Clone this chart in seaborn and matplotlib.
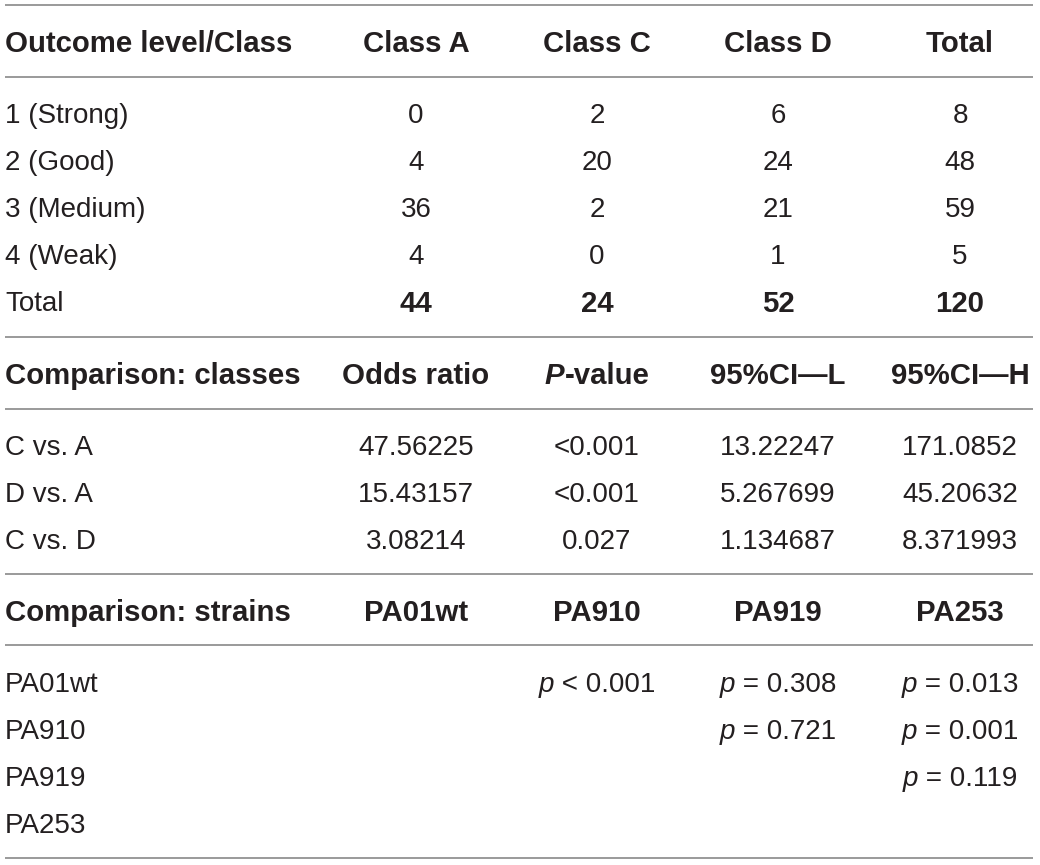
import matplotlib
matplotlib.use("Agg")
import matplotlib.pyplot as plt
import seaborn as sns

# Section 1: outcome level counts per class
outcome_levels = ["1 (Strong)", "2 (Good)", "3 (Medium)", "4 (Weak)"]
class_a = [0, 4, 36, 4]
class_c = [2, 20, 2, 0]
class_d = [6, 24, 21, 1]
count_headers = ["Outcome level/Class", "Class A", "Class C", "Class D", "Total"]

# Section 2: class comparisons
comparisons = ["C vs. A", "D vs. A", "C vs. D"]
odds_ratio = ["47.56225", "15.43157", "3.08214"]
p_value = ["<0.001", "<0.001", "0.027"]
ci_low = ["13.22247", "5.267699", "1.134687"]
ci_high = ["171.0852", "45.20632", "8.371993"]

# Section 3: strain p-values (upper triangle)
strains = ["PA01wt", "PA910", "PA919", "PA253"]
strain_p = {
    ("PA01wt", "PA910"): "< 0.001",
    ("PA01wt", "PA919"): "= 0.308",
    ("PA01wt", "PA253"): "= 0.013",
    ("PA910", "PA919"): "= 0.721",
    ("PA910", "PA253"): "= 0.001",
    ("PA919", "PA253"): "= 0.119",
}

sns.set_theme(style="white")
plt.rcParams["font.family"] = ["Liberation Sans", "DejaVu Sans"]

W, H = 1040, 865
fig = plt.figure(figsize=(W / 100, H / 100), dpi=100)
ax = fig.add_axes([0, 0, 1, 1])
ax.set_xlim(0, W)
ax.set_ylim(H, 0)
ax.axis("off")

ink = "#231f20"
rule = "#9a9a9a"
fs = 20
fs_bold = 21.2
col_x = [5, 416, 597, 778, 960]
row_h = 47

renderer = fig.canvas.get_renderer()


def cell(x, y, s, bold=False, left=False):
    ax.text(x, y, s, ha="left" if left else "center", va="center_baseline",
            fontsize=fs_bold if bold else fs, color=ink,
            fontweight="bold" if bold else "normal")


def rich(x, y, pieces):
    # pieces: list of (text, italic, bold); centred as a whole on x
    objs = []
    for s, it, bf in pieces:
        t = ax.text(0, y, s, ha="left", va="center_baseline",
                    fontsize=fs_bold if bf else fs, color=ink,
                    fontstyle="italic" if it else "normal",
                    fontweight="bold" if bf else "normal")
        objs.append(t)
    widths = [t.get_window_extent(renderer).width for t in objs]
    start = x - sum(widths) / 2
    for t, w in zip(objs, widths):
        t.set_x(start)
        start += w


def hline(y):
    ax.plot([5, 1033], [y, y], color=rule, lw=1.4, solid_capstyle="butt")


# section 1
hline(5)
for x, h in zip(col_x, count_headers):
    cell(x, 41, h, bold=True, left=(x == col_x[0]))
hline(77)
y = 113
for i, lvl in enumerate(outcome_levels):
    cell(col_x[0], y, lvl, left=True)
    vals = [class_a[i], class_c[i], class_d[i]]
    for x, v in zip(col_x[1:4], vals):
        cell(x, y, str(v))
    cell(col_x[4], y, str(sum(vals)))
    y += row_h
cell(col_x[0], y, "Total", left=True)
tots = [sum(class_a), sum(class_c), sum(class_d)]
for x, v in zip(col_x[1:4], tots):
    cell(x, y, str(v), bold=True)
cell(col_x[4], y, str(sum(tots)), bold=True)

# section 2
hline(337)
cell(col_x[0], 373, "Comparison: classes", bold=True, left=True)
cell(col_x[1], 373, "Odds ratio", bold=True)
rich(col_x[2], 373, [("P", True, True), ("-value", False, True)])
cell(col_x[3], 373, "95%CI\u2014L", bold=True)
cell(col_x[4], 373, "95%CI\u2014H", bold=True)
hline(409)
y = 445
for i, c in enumerate(comparisons):
    cell(col_x[0], y, c, left=True)
    for x, v in zip(col_x[1:], [odds_ratio[i], p_value[i], ci_low[i], ci_high[i]]):
        cell(x, y, v)
    y += row_h

# section 3
hline(574)
cell(col_x[0], 610, "Comparison: strains", bold=True, left=True)
for x, s in zip(col_x[1:], strains):
    cell(x, 610, s, bold=True)
hline(645)
y = 682
for r in strains:
    cell(col_x[0], y, r, left=True)
    for x, c in zip(col_x[1:], strains):
        if (r, c) in strain_p:
            rich(x, y, [("p", True, False), (" " + strain_p[(r, c)], False, False)])
    y += row_h
hline(858)

fig.savefig("out.png", dpi=100)
